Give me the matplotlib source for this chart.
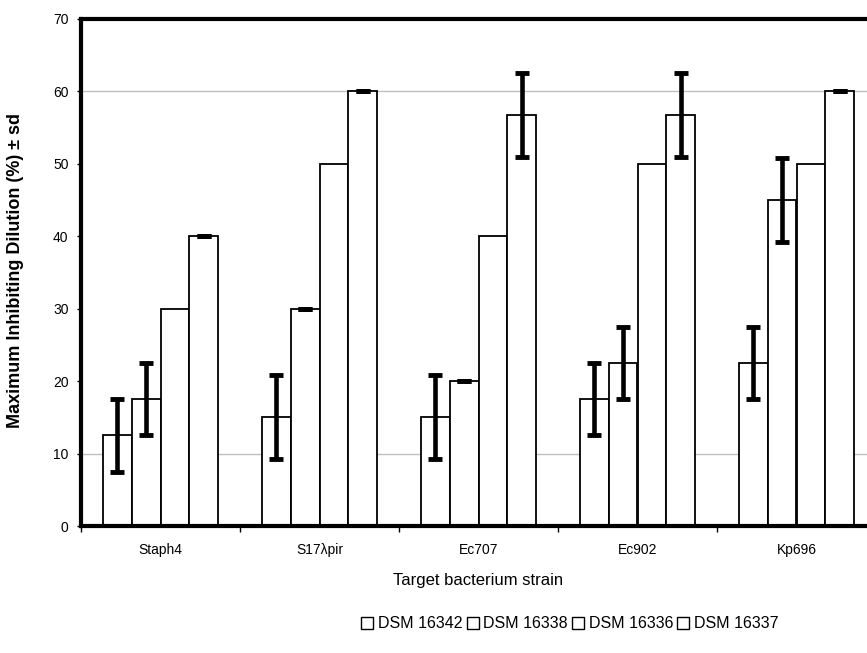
import matplotlib
matplotlib.use("Agg")
import matplotlib.pyplot as plt
from matplotlib.patches import Patch
import numpy as np

plt.rcParams['font.family'] = ['Liberation Sans', 'DejaVu Sans']

categories = ["Staph4", "S17\u03bbpir", "Ec707", "Ec902", "Kp696"]
series_names = ["DSM 16342", "DSM 16338", "DSM 16336", "DSM 16337"]
dsm16342 = [12.5, 15.0, 15.0, 17.5, 22.5]
dsm16342_sd = [5.0, 5.8, 5.8, 5.0, 5.0]
dsm16338 = [17.5, 30.0, 20.0, 22.5, 45.0]
dsm16338_sd = [5.0, 0.0, 0.0, 5.0, 5.8]
dsm16336 = [30.0, 50.0, 40.0, 50.0, 50.0]
dsm16336_sd = None
dsm16337 = [40.0, 60.0, 56.7, 56.7, 60.0]
dsm16337_sd = [0.0, 0.0, 5.8, 5.8, 0.0]

values = [dsm16342, dsm16338, dsm16336, dsm16337]
errors = [dsm16342_sd, dsm16338_sd, dsm16336_sd, dsm16337_sd]

W, H = 867, 653
fig = plt.figure(figsize=(W / 100, H / 100), dpi=100)
left, right, top, bottom = 81, 876, 19, 526
ax = fig.add_axes([left / W, 1 - bottom / H, (right - left) / W, (bottom - top) / H])

x = np.arange(len(categories))
bw = 0.182
offsets = (np.arange(4) - 1.5) * bw

for v in (10, 60):
    ax.axhline(v, color='#c0c0c0', lw=1.0, zorder=0)

for i in range(4):
    ax.bar(x + offsets[i], values[i], width=bw, facecolor='white', edgecolor='black',
           linewidth=1.3, zorder=2)
    if errors[i] is not None:
        ax.errorbar(x + offsets[i], values[i], yerr=errors[i], fmt='none', ecolor='black',
                    elinewidth=3.3, capsize=5.2, capthick=3.5, zorder=3)

ax.set_xlim(-0.5, len(categories) - 0.5)
ax.set_ylim(0, 70)
ax.set_yticks(np.arange(0, 71, 10))
ax.set_xticks(x)
ax.set_xticklabels(categories, fontsize=10)
ax.set_xticks(np.arange(-0.5, len(categories)), minor=True)
ax.tick_params(axis='x', which='major', length=0, pad=12)
ax.tick_params(axis='x', which='minor', length=4, width=1, direction='out')
ax.tick_params(axis='y', length=3, width=1, direction='out', labelsize=10, pad=6)

for s in ['left', 'bottom', 'top']:
    ax.spines[s].set_linewidth(3)
    ax.spines[s].set_zorder(4)
ax.spines['right'].set_visible(False)

ax.set_ylabel("Maximum Inhibiting Dilution (%) \u00b1 sd", fontsize=13, fontweight='bold')
ax.yaxis.set_label_coords((24 - left) / (right - left), (bottom - 270) / (bottom - top))
ax.set_xlabel("Target bacterium strain", fontsize=12, labelpad=12)

handles = [Patch(facecolor='white', edgecolor='black', linewidth=1.0) for _ in series_names]
fig.legend(handles, series_names, loc='center', bbox_to_anchor=(570 / W, 1 - 624 / H),
           ncol=4, frameon=False, fontsize=11.5, handlelength=0.75, handleheight=0.75,
           handletextpad=0.3, columnspacing=0.25, borderaxespad=0)

fig.savefig("out.png", dpi=100)
